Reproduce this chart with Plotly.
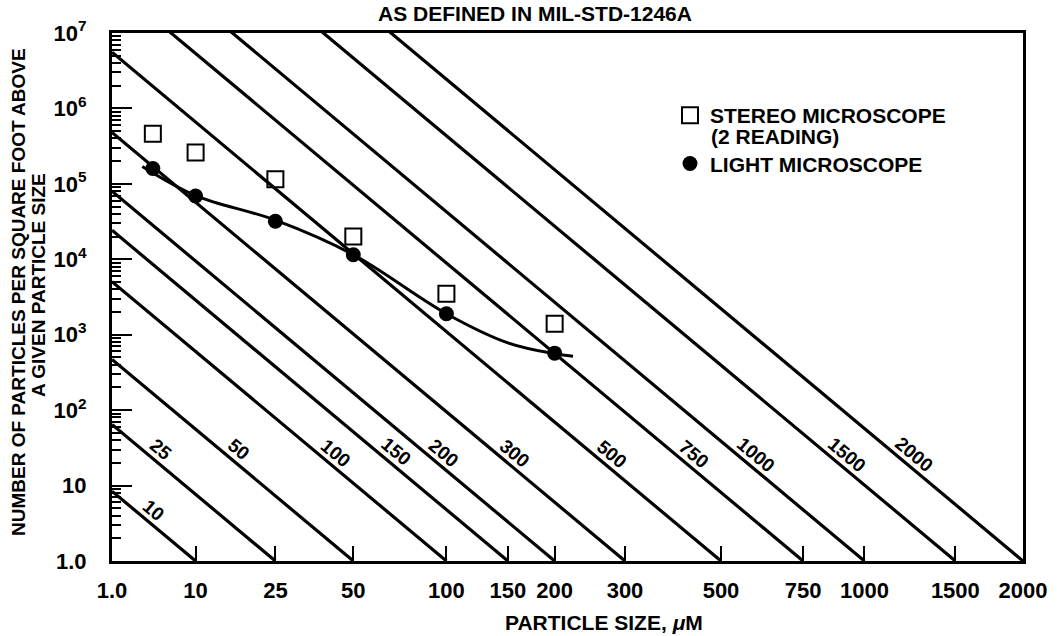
import numpy as np
import plotly.graph_objects as go

# ---------------- data ----------------
x_tick_sizes = [1.0, 10, 25, 50, 100, 150, 200, 300, 500, 750, 1000, 1500, 2000]
x_tick_text = ["1.0", "10", "25", "50", "100", "150", "200", "300", "500", "750", "1000", "1500", "2000"]
y_tick_vals = [1, 10, 1e2, 1e3, 1e4, 1e5, 1e6, 1e7]
y_tick_text = ["1.0", "10", "10<sup>2</sup>", "10<sup>3</sup>", "10<sup>4</sup>",
               "10<sup>5</sup>", "10<sup>6</sup>", "10<sup>7</sup>"]

# cleanliness levels (MIL-STD-1246A): log N = 0.926 (log^2 L - log^2 x)
levels = [10, 25, 50, 100, 150, 200, 300, 500, 750, 1000, 1500, 2000]
level_label_count = [4.7, 30, 30, 27, 28, 27, 27, 26, 26, 26, 26, 26]
SLOPE = 0.926

stereo_size = [5, 10, 25, 50, 100, 200]
stereo_count = [4.6e5, 2.6e5, 1.15e5, 2.0e4, 3.5e3, 1.4e3]

light_size = [5, 10, 25, 50, 100, 200]
light_count = [1.6e5, 6.9e4, 3.2e4, 1.15e4, 1.9e3, 5.7e2]

fit_size = [4, 10, 25, 50, 100, 150, 200, 223]
fit_count = [1.7e5, 7.0e4, 3.3e4, 1.15e4, 1.9e3, 7.8e2, 5.6e2, 5.2e2]


def u(x):
    """log-squared particle size scale used by MIL-STD-1246"""
    return np.log10(np.asarray(x, dtype=float)) ** 2


FONT = "Liberation Sans"
BLACK = "black"
fig = go.Figure()

# level lines
for L in levels:
    fig.add_trace(go.Scatter(
        x=[0.0, float(u(L))], y=[10 ** (SLOPE * float(u(L))), 1.0],
        mode="lines", line=dict(color=BLACK, width=3.2),
        showlegend=False, hoverinfo="skip"))

# fitted curve
fig.add_trace(go.Scatter(
    x=u(fit_size), y=fit_count, mode="lines",
    line=dict(color=BLACK, width=3, shape="spline", smoothing=1.0),
    showlegend=False, hoverinfo="skip"))

fig.add_trace(go.Scatter(
    x=u(stereo_size), y=stereo_count, mode="markers",
    name="STEREO MICROSCOPE", legendgroup="stereo",
    marker=dict(symbol="square-open", size=16, color=BLACK, line=dict(width=2, color=BLACK))))

fig.add_trace(go.Scatter(
    x=u(light_size), y=light_count, mode="markers",
    name="LIGHT MICROSCOPE", legendgroup="light",
    marker=dict(symbol="circle", size=15, color=BLACK)))

# level labels along lines
annotations = []
for L, n in zip(levels, level_label_count):
    ly = np.log10(n)
    lx = float(u(L)) - ly / SLOPE
    annotations.append(dict(
        x=lx, y=ly, xref="x", yref="y", text=f"<b>{L}</b>", showarrow=False,
        textangle=40, xshift=19, font=dict(size=19, family=FONT, color=BLACK)))

annotations += [
    dict(text="<b>(2 READING)</b>", xref="paper", yref="paper",
         x=(709 - 112) / 911, y=(561 - 136) / 528, xanchor="left", yanchor="middle",
         showarrow=False, font=dict(size=21, family=FONT, color=BLACK)),
    dict(text="<b>PARTICLE SIZE, <i>μ</i>M</b>", xref="paper", yref="paper",
         x=(604 - 112) / 911, y=(561 - 622) / 528, xanchor="center", yanchor="middle",
         showarrow=False, font=dict(size=21, family=FONT, color=BLACK)),
    dict(text="<b>NUMBER OF PARTICLES PER SQUARE FOOT ABOVE</b>", xref="paper", yref="paper",
         x=(18 - 112) / 911, y=(561 - 292) / 528, xanchor="center", yanchor="middle", textangle=-90,
         showarrow=False, font=dict(size=19, family=FONT, color=BLACK)),
    dict(text="<b>A GIVEN PARTICLE SIZE</b>", xref="paper", yref="paper",
         x=(38 - 112) / 911, y=(561 - 285) / 528, xanchor="center", yanchor="middle", textangle=-90,
         showarrow=False, font=dict(size=19, family=FONT, color=BLACK)),
]

fig.update_layout(
    width=1058, height=636,
    margin=dict(l=112, r=35, t=33, b=75),
    paper_bgcolor="white", plot_bgcolor="white",
    font=dict(family=FONT, size=20, color=BLACK, weight="bold"),
    title=dict(text="<b>AS DEFINED IN MIL-STD-1246A</b>", x=535 / 1058, xref="container",
               xanchor="center", y=1 - 14 / 636, yref="container", yanchor="middle",
               font=dict(size=21, family=FONT, color=BLACK)),
    annotations=annotations,
    legend=dict(x=(670 - 112) / 911, y=(561 - 95) / 528, xanchor="left", yanchor="top",
                valign="middle", traceorder="grouped", tracegroupgap=18,
                bgcolor="rgba(0,0,0,0)",
                font=dict(size=21, family=FONT, color=BLACK, weight="bold"),
                itemsizing="trace"),
    xaxis=dict(range=[0, float(u(2000))], tickmode="array",
               tickvals=[float(v) for v in u(x_tick_sizes)], ticktext=x_tick_text,
               ticks="inside", ticklen=15, tickwidth=2, tickcolor=BLACK,
               showline=True, linewidth=3, linecolor=BLACK, mirror=True,
               showgrid=False, zeroline=False, ticklabelstandoff=8,
               tickfont=dict(size=22, family=FONT, color=BLACK, weight="bold")),
    yaxis=dict(type="log", range=[0, 7], tickmode="array",
               tickvals=y_tick_vals, ticktext=y_tick_text,
               ticks="inside", ticklen=20, tickwidth=2, tickcolor=BLACK,
               minor=dict(ticks="inside", ticklen=9, tickwidth=1.5, tickcolor=BLACK,
                          dtick="D1", showgrid=False),
               showline=True, linewidth=3, linecolor=BLACK, mirror=True,
               showgrid=False, zeroline=False, ticklabelstandoff=18,
               tickfont=dict(size=22, family=FONT, color=BLACK, weight="bold")),
)

fig.write_html("out.html")
